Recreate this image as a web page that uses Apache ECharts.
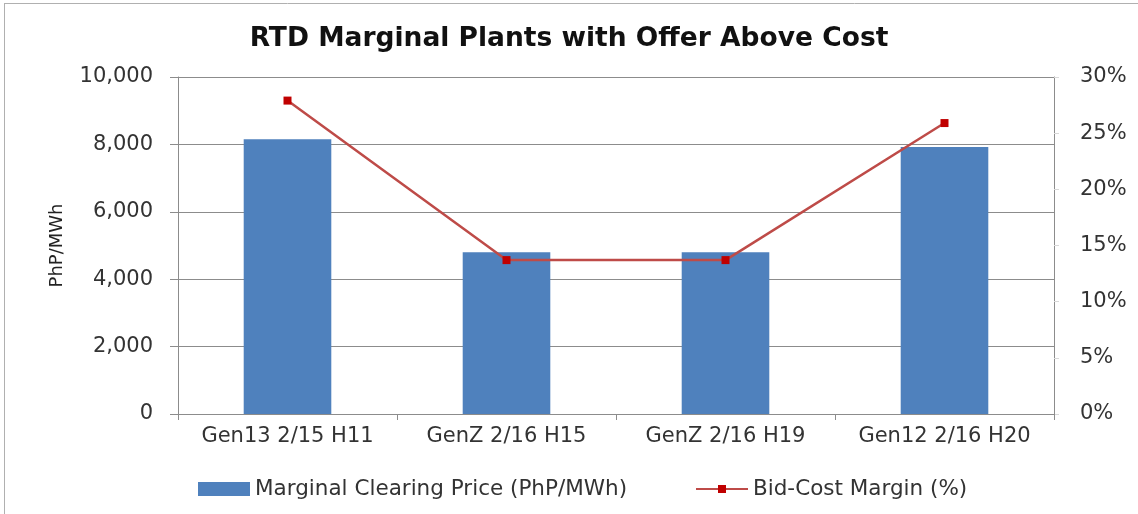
<!DOCTYPE html>
<html>
<head>
<meta charset="utf-8">
<script src="https://cdn.jsdelivr.net/npm/echarts@6/dist/echarts.min.js"></script>
<style>
  html, body { margin: 0; padding: 0; background: #fff; }
  #chart { width: 1138px; height: 514px; }
</style>
</head>
<body>
<div id="chart"></div>
<script>
const categories = ['Gen13 2/15 H11', 'GenZ 2/16 H15', 'GenZ 2/16 H19', 'Gen12 2/16 H20']
const clearingPrice = [8150, 4800, 4800, 7920]
const bidCostMargin = [27.9, 13.7, 13.7, 25.9]

const FONT = '"DejaVu Sans", sans-serif'
const gridColor = '#8c8c8c'
const labelColor = '#333'

const chart = echarts.init(document.getElementById('chart'))

const options = {
  animation: false,
  textStyle: { fontFamily: FONT },
  title: {
    text: 'RTD Marginal Plants with Offer Above Cost',
    left: 'center',
    top: 21,
    textStyle: { fontFamily: FONT, fontSize: 26.5, fontWeight: 'bold', color: '#111' }
  },
  graphic: [
    { type: 'line', shape: { x1: 4.5, y1: 3, x2: 4.5, y2: 514 }, style: { stroke: '#b0b0b0', lineWidth: 1 } },
    { type: 'line', shape: { x1: 4, y1: 3.5, x2: 1138, y2: 3.5 }, style: { stroke: '#b0b0b0', lineWidth: 1 } }
  ],
  grid: {
    left: 178,
    right: 84,
    top: 77,
    bottom: 100,
    containLabel: false
  },
  legend: [
    {
      left: 193,
      top: 473,
      itemWidth: 52,
      itemHeight: 14,
      textStyle: { fontFamily: FONT, fontSize: 21.5, color: labelColor },
      data: [{ name: 'Marginal Clearing Price (PhP/MWh)', icon: 'rect' }]
    },
    {
      left: 690,
      top: 473,
      itemWidth: 52,
      itemHeight: 10,
      textStyle: { fontFamily: FONT, fontSize: 21.5, color: labelColor },
      data: [{ name: 'Bid-Cost Margin (%)' }]
    }
  ],
  xAxis: {
    type: 'category',
    data: categories,
    axisLine: { lineStyle: { color: gridColor } },
    axisTick: { show: true, interval: 0, length: 6, alignWithLabel: false, lineStyle: { color: gridColor } },
    axisLabel: { interval: 0, fontFamily: FONT, fontSize: 21, color: labelColor, margin: 12 }
  },
  yAxis: [
    {
      type: 'value',
      min: 0,
      max: 10000,
      interval: 2000,
      name: 'PhP/MWh',
      nameLocation: 'middle',
      nameRotate: 90,
      nameGap: 112,
      nameTextStyle: { fontFamily: FONT, fontSize: 18, color: '#222' },
      axisLine: { show: true, lineStyle: { color: gridColor } },
      axisTick: { show: true, length: 8, lineStyle: { color: gridColor } },
      axisLabel: {
        fontFamily: FONT, fontSize: 21, color: labelColor, margin: 25,
        formatter: v => v.toLocaleString('en-US')
      },
      splitLine: { show: true, lineStyle: { color: gridColor, width: 1 } }
    },
    {
      type: 'value',
      min: 0,
      max: 30,
      interval: 5,
      position: 'right',
      axisLine: { show: true, lineStyle: { color: gridColor } },
      axisTick: { show: true, length: 5, lineStyle: { color: '#d8d8d8' } },
      axisLabel: { fontFamily: FONT, fontSize: 21, color: labelColor, margin: 26, formatter: '{value}%' },
      splitLine: { show: false }
    }
  ],
  series: [
    {
      name: 'Marginal Clearing Price (PhP/MWh)',
      type: 'bar',
      yAxisIndex: 0,
      barWidth: '40%',
      itemStyle: { color: '#4F81BD' },
      data: clearingPrice
    },
    {
      name: 'Bid-Cost Margin (%)',
      type: 'line',
      yAxisIndex: 1,
      symbol: 'rect',
      symbolSize: 8,
      lineStyle: { color: '#BE4B48', width: 2.5 },
      itemStyle: { color: '#C00000', borderWidth: 0 },
      data: bidCostMargin
    }
  ]
}

chart.setOption(options)
</script>
</body>
</html>
